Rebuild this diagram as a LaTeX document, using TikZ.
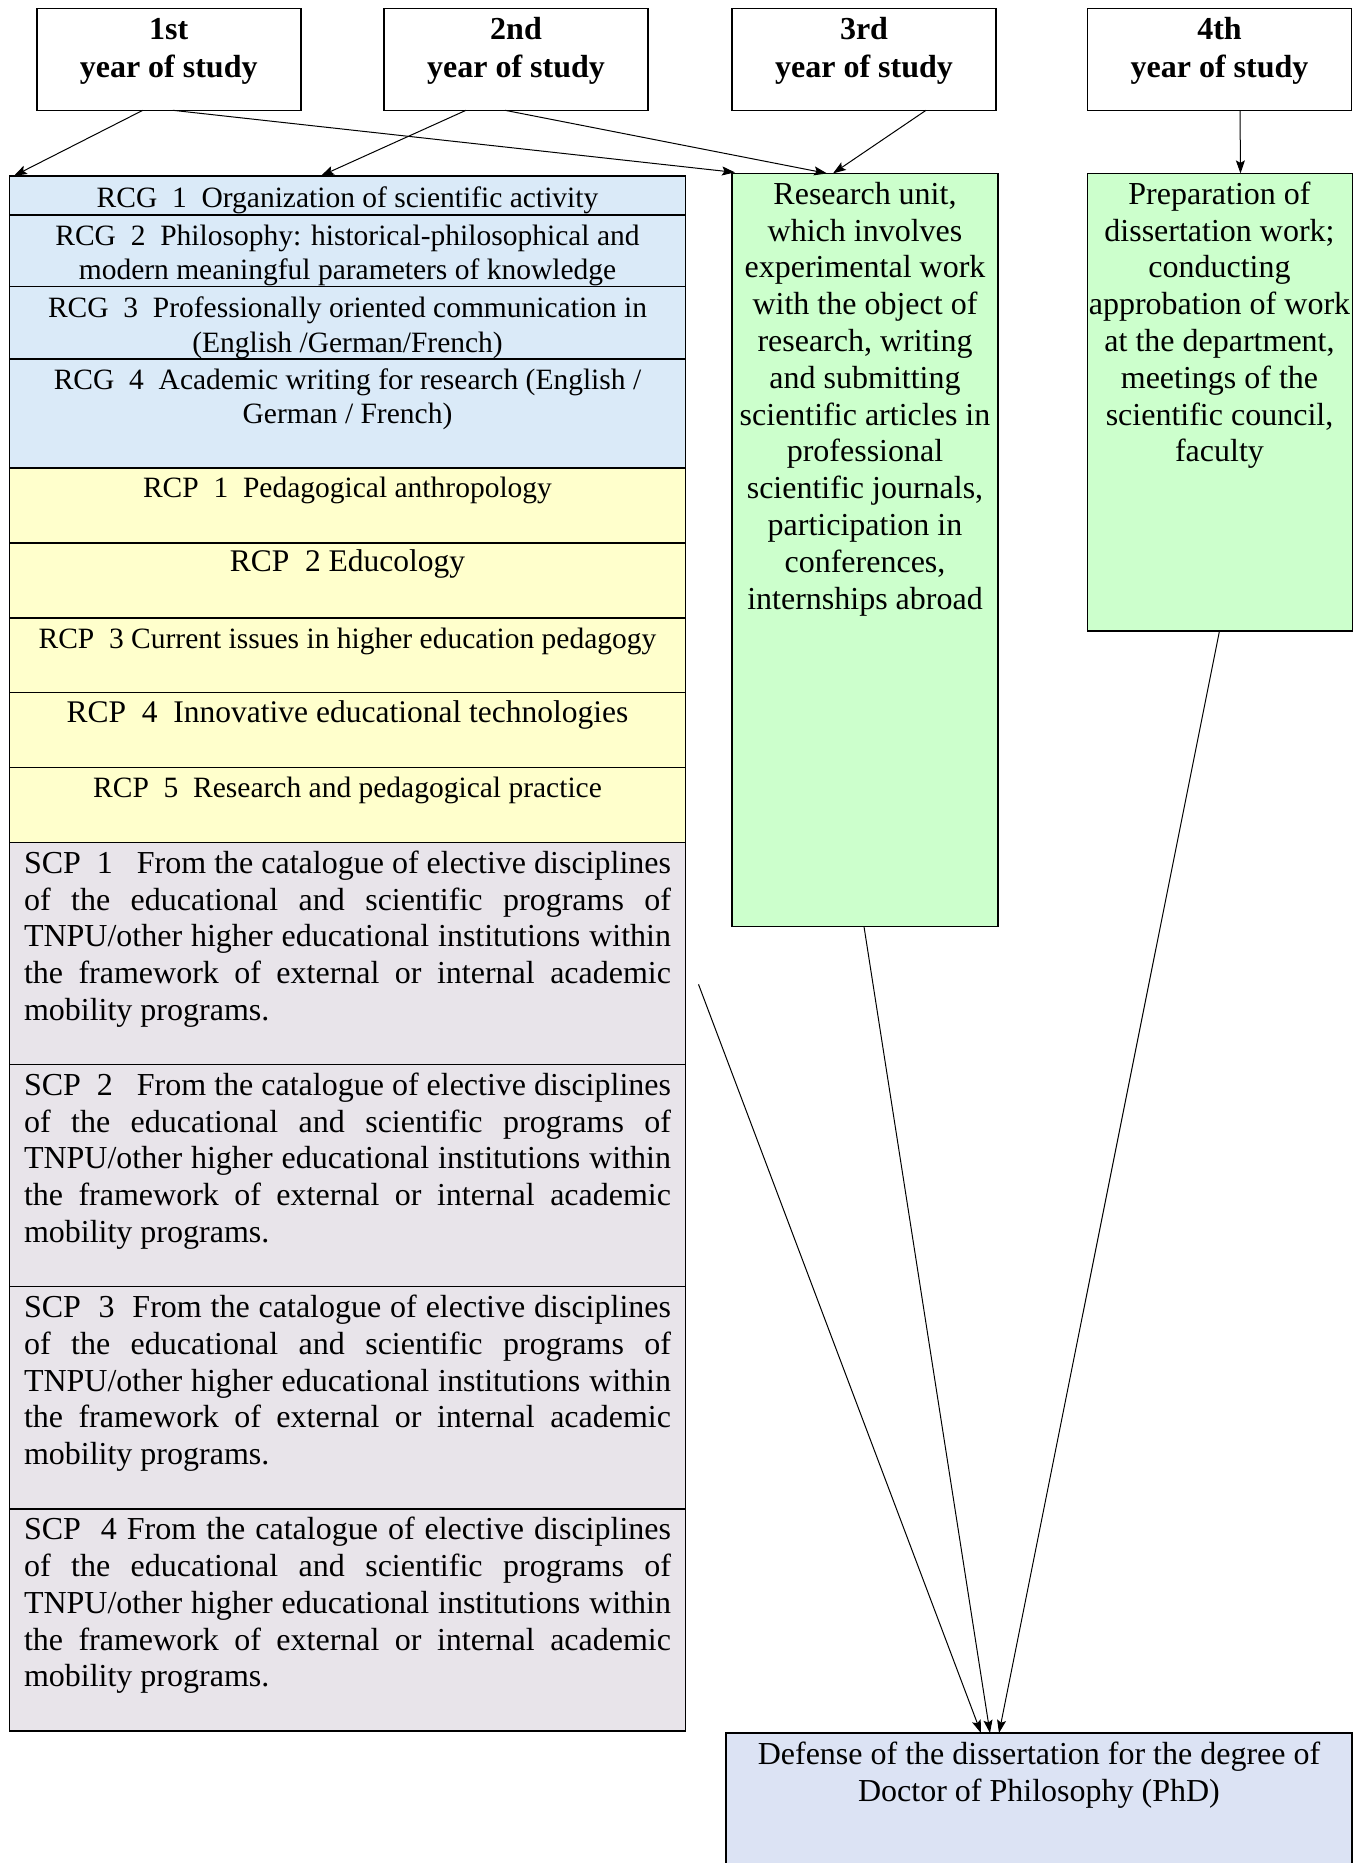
\documentclass[tikz,border=0pt]{standalone}
\usepackage{fontspec}
\setmainfont{Liberation Serif}
\usetikzlibrary{arrows.meta}
\definecolor{rcgblue}{HTML}{DAEAF8}
\definecolor{rcpyellow}{HTML}{FFFFCC}
\definecolor{scpgrey}{HTML}{E8E4EA}
\definecolor{greenbox}{HTML}{CCFFCC}
\definecolor{defblue}{HTML}{DCE3F4}
\begin{document}
\begin{tikzpicture}[x=1pt,y=-1pt,
  box/.style={draw=black, line width=1.4pt, inner sep=0pt, outer sep=0pt, anchor=north west},
  yearbox/.style={box, fill=white, minimum width=264pt, minimum height=102pt},
  leftbox/.style={box, minimum width=676pt},
  txtA/.style={anchor=north, inner sep=0pt, align=center, font=\fontsize{29.5}{34.5}\selectfont},
  txtAL/.style={anchor=north, inner sep=0pt, align=center, font=\fontsize{31.5}{34.5}\selectfont},
  txtB/.style={anchor=north, inner sep=0pt, align=center, font=\fontsize{32}{36.8}\selectfont},
  txtY/.style={anchor=north, inner sep=0pt, align=center, font=\fontsize{32}{38}\selectfont\bfseries},
  txtS/.style={anchor=north west, inner sep=0pt, align=left, font=\fontsize{32}{36.8}\selectfont},
  arr/.style={draw=black, line width=1pt, -{Stealth[length=13pt,width=9pt,inset=2.5pt]}}
]
\useasboundingbox (0,0) rectangle (1365,1863);

% year boxes
\node[yearbox] (y1) at (36.8,8.3) {};
\node[yearbox] (y2) at (384,8.3) {};
\node[yearbox] (y3) at (732,8.3) {};
\node[yearbox] (y4) at (1087.5,8.3) {};
\node[txtY] (ty1) at (168.7,12.5) {\strut 1st\\year of study};
\node[txtY] (ty2) at (516,12.5) {\strut 2nd\\year of study};
\node[txtY] (ty3) at (864,12.5) {\strut 3rd\\year of study};
\node[txtY] (ty4) at (1219.5,12.5) {\strut 4th\\year of study};

% left column
\node[leftbox, fill=rcgblue, minimum height=39.2pt] (rcg1) at (9.5,175.8) {};
\node[leftbox, fill=rcgblue, minimum height=71.3pt] (rcg2) at (9.5,215) {};
\node[leftbox, fill=rcgblue, minimum height=72.5pt] (rcg3) at (9.5,286.3) {};
\node[leftbox, fill=rcgblue, minimum height=109.2pt] (rcg4) at (9.5,358.8) {};
\node[leftbox, fill=rcpyellow, minimum height=75pt] (rcp1) at (9.5,468) {};
\node[leftbox, fill=rcpyellow, minimum height=74.8pt] (rcp2) at (9.5,543) {};
\node[leftbox, fill=rcpyellow, minimum height=74.8pt] (rcp3) at (9.5,617.8) {};
\node[leftbox, fill=rcpyellow, minimum height=74.8pt] (rcp4) at (9.5,692.6) {};
\node[leftbox, fill=rcpyellow, minimum height=74.9pt] (rcp5) at (9.5,767.4) {};
\node[leftbox, fill=scpgrey, minimum height=222.1pt] (scp1) at (9.5,842.3) {};
\node[leftbox, fill=scpgrey, minimum height=222.2pt] (scp2) at (9.5,1064.4) {};
\node[leftbox, fill=scpgrey, minimum height=222.2pt] (scp3) at (9.5,1286.6) {};
\node[leftbox, fill=scpgrey, minimum height=222.2pt] (scp4) at (9.5,1508.8) {};

\node[txtA] (trcg1) at (347.5,182.8) {\strut RCG\ \ 1\ \ Organization of scientific activity};
\node[txtA] (trcg2) at (347.5,220.8) {\strut RCG\ \ 2\ \ Philosophy: historical-philosophical and\\modern meaningful parameters of knowledge};
\node[txtA] (trcg3) at (347.5,293.5) {\strut RCG\ \ 3\ \ Professionally oriented communication in\\(English /German/French)};
\node[txtA] (trcg4) at (347.5,364.8) {\strut RCG\ \ 4\ \ Academic writing for research (English /\\German / French)};
\node[txtA] (trcp1) at (347.5,472.8) {\strut RCP\ \ 1\ \ Pedagogical anthropology};
\node[txtAL] (trcp2) at (347.5,547.3) {\strut RCP\ \ 2 Educology};
\node[txtA] (trcp3) at (347.5,623.8) {\strut RCP\ \ 3 Current issues in higher education pedagogy};
\node[txtAL] (trcp4) at (347.5,698.3) {\strut RCP\ \ 4\ \ Innovative educational technologies};
\node[txtA] (trcp5) at (347.5,773.4) {\strut RCP\ \ 5\ \ Research and pedagogical practice};

\newcommand{\jline}[1]{\makebox[647pt][s]{#1}}
\node[txtS] (tscp1) at (23.8,847.3) {\strut\jline{SCP\ \ 1\ \ \ From the catalogue of elective disciplines}\\\jline{of the educational and scientific programs of}\\\jline{TNPU/other higher educational institutions within}\\\jline{the framework of external or internal academic}\\mobility programs.};
\node[txtS] (tscp2) at (23.8,1069.4) {\strut\jline{SCP\ \ 2\ \ \ From the catalogue of elective disciplines}\\\jline{of the educational and scientific programs of}\\\jline{TNPU/other higher educational institutions within}\\\jline{the framework of external or internal academic}\\mobility programs.};
\node[txtS] (tscp3) at (23.8,1291.6) {\strut\jline{SCP\ \ 3\ \ From the catalogue of elective disciplines}\\\jline{of the educational and scientific programs of}\\\jline{TNPU/other higher educational institutions within}\\\jline{the framework of external or internal academic}\\mobility programs.};
\node[txtS] (tscp4) at (23.8,1513.8) {\strut\jline{SCP\ \ 4 From the catalogue of elective disciplines}\\\jline{of the educational and scientific programs of}\\\jline{TNPU/other higher educational institutions within}\\\jline{the framework of external or internal academic}\\mobility programs.};

% right boxes
\node[box, fill=greenbox, minimum width=266pt, minimum height=753.2pt] (ru) at (732,173.4) {};
\node[box, fill=greenbox, minimum width=265pt, minimum height=457.4pt] (prep) at (1087.5,173.4) {};
\node[box, fill=defblue, minimum width=626pt, minimum height=160pt] (def) at (726,1733) {};

\node[txtB] (tru) at (865,178.4) {\strut Research unit,\\which involves\\experimental work\\with the object of\\research, writing\\and submitting\\scientific articles in\\professional\\scientific journals,\\participation in\\conferences,\\internships abroad};
\node[txtB] (tprep) at (1219.5,178.4) {\strut Preparation of\\dissertation work;\\conducting\\approbation of work\\at the department,\\meetings of the\\scientific council,\\faculty};
\node[txtB] (tdef) at (1039,1738.3) {\strut Defense of the dissertation for the degree of\\Doctor of Philosophy (PhD)};

% arrows
\draw[arr] ([xshift=-26pt]y1.south) -- ([xshift=4.5pt]rcg1.north west);
\draw[arr] ([xshift=4pt]y1.south) -- ([xshift=3pt,yshift=1pt]ru.north west);
\draw[arr] ([xshift=-50pt]y2.south) -- ([xshift=-26.5pt]rcg1.north);
\draw[arr] ([xshift=-11pt]y2.south) -- ([xshift=-38pt]ru.north);
\draw[arr] ([xshift=62pt]y3.south) -- ([xshift=-32pt]ru.north);
\draw[arr] ([xshift=20.5pt]y4.south) -- ([xshift=20.5pt]prep.north);
\coordinate (scpout) at ([shift={(13,31)}]scp1.east);
\draw[arr] (scpout) -- ([xshift=-58pt]def.north);
\draw[arr] ([xshift=-1pt]ru.south) -- ([xshift=-49pt]def.north);
\draw[arr] ([xshift=-0.5pt]prep.south) -- ([xshift=-40pt]def.north);
\end{tikzpicture}
\end{document}
